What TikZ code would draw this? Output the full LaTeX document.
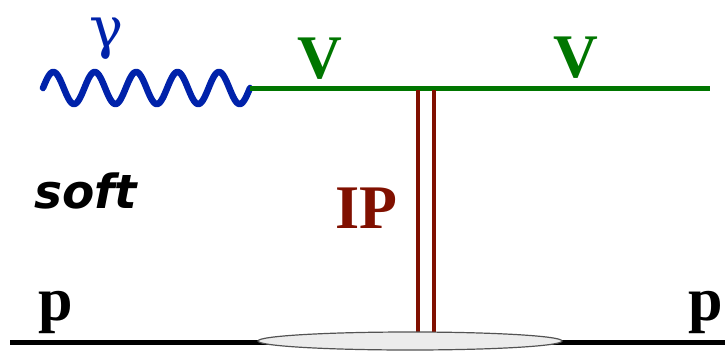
\documentclass[tikz,border=0pt]{standalone}
\usepackage{fontspec}
\setmainfont{Liberation Serif}
\newfontfamily\softfont{DejaVu Sans}
\newfontfamily\gamfont{DejaVu Serif}
\definecolor{phblue}{RGB}{0,34,170}
\definecolor{vgreen}{RGB}{0,118,0}
\definecolor{pomred}{RGB}{128,16,0}
\begin{document}
\begin{tikzpicture}[x=1pt,y=-1pt,
  lbl/.style={inner sep=0pt, anchor=base, font=\fontsize{62}{62}\selectfont\bfseries},
  photon/.style={phblue, line width=6.5pt, line cap=round, line join=round},
  vline/.style={vgreen, line width=5pt},
  pomeron/.style={pomred, line width=4pt},
  proton/.style={black, line width=5pt},
  blob/.style={fill=gray!15, draw=gray!65!black, line width=1.2pt}]
\useasboundingbox (0,0) rectangle (725,351);
% coordinates
\coordinate (wstart) at (43,88);
\coordinate (vtx) at (250,88);
\coordinate (gend) at (710,88);
\coordinate (r1top) at (418,90);
\coordinate (r1bot) at (418,334);
\coordinate (r2top) at (434,90);
\coordinate (r2bot) at (434,334);
\coordinate (pstart) at (10,342);
\coordinate (pend) at (725,342);
\coordinate (blobc) at (410,341);
% photon
\draw[photon] plot[domain=43:250, samples=300] (\x, {88-16*sin(8.6957*(\x-43))});
% vector meson line
\draw[vline] (vtx) -- (gend);
% pomeron
\draw[pomeron] (r1top) -- (r1bot);
\draw[pomeron] (r2top) -- (r2bot);
% proton line
\draw[proton] (pstart) -- (pend);
\draw[blob] (blobc) ellipse [x radius=152, y radius=9];
% labels
\node[inner sep=0pt, anchor=base, text=phblue, font=\gamfont\fontsize{57}{57}\selectfont] (gamma) at (107,47) {γ};
\node[lbl, text=vgreen] (V1) at (320,78) {V};
\node[lbl, text=vgreen] (V2) at (576,77) {V};
\node[lbl, text=pomred] (IP) at (366,228) {IP};
\node[lbl] (pL) at (56,320) {p};
\node[lbl] (pR) at (706,320) {p};
\node[inner sep=0pt, anchor=base west, font=\softfont\fontsize{47}{47}\selectfont\bfseries\itshape] (soft) at (34,208) {soft};
\end{tikzpicture}
\end{document}
